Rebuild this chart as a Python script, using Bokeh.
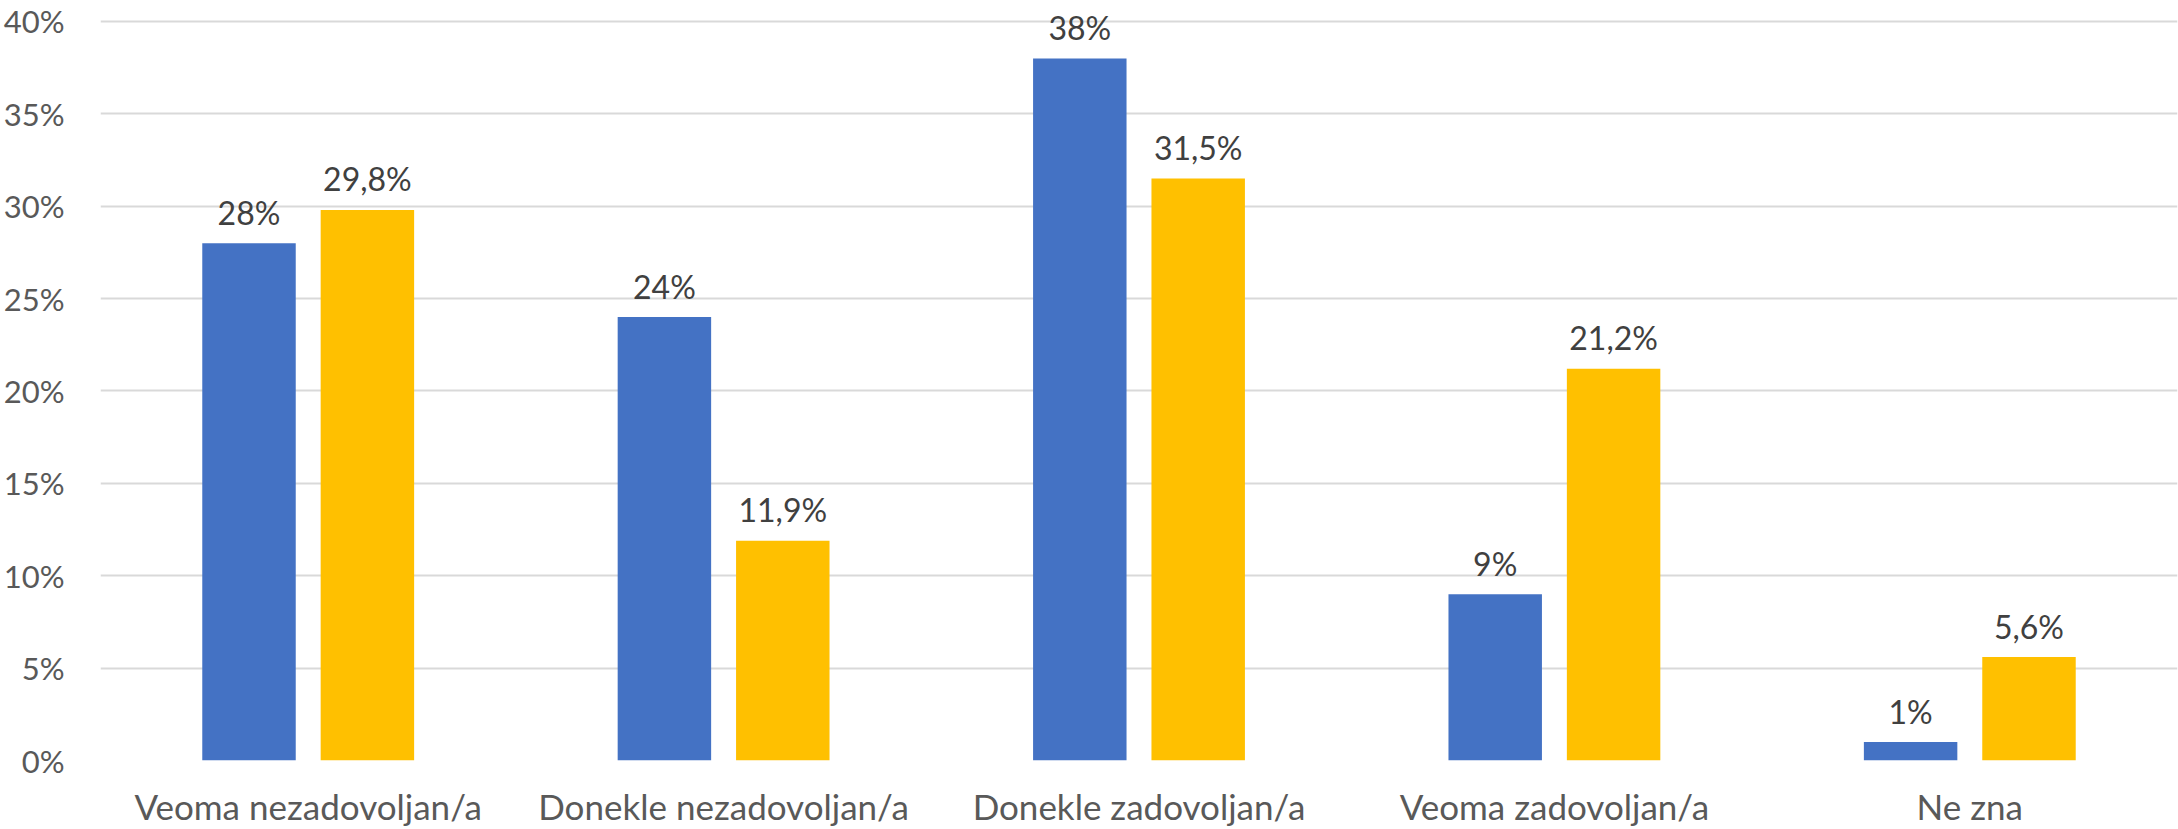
from bokeh.plotting import figure
from bokeh.models import ColumnDataSource, FactorRange, Range1d, FixedTicker
from bokeh.transform import dodge
from bokeh.core.properties import value
from bokeh.embed import file_html
from bokeh.resources import INLINE

categories = ["Veoma nezadovoljan/a", "Donekle nezadovoljan/a", "Donekle zadovoljan/a",
              "Veoma zadovoljan/a", "Ne zna"]
series_a = [28, 24, 38, 9, 1]
series_b = [29.8, 11.9, 31.5, 21.2, 5.6]
labels_a = ["28%", "24%", "38%", "9%", "1%"]
labels_b = ["29,8%", "11,9%", "31,5%", "21,2%", "5,6%"]
y_ticks = [0, 5, 10, 15, 20, 25, 30, 35, 40]

FONT = "Lato"
src = ColumnDataSource(dict(cat=categories, a=series_a, b=series_b, la=labels_a, lb=labels_b))

# frame spans 761 px; the 40% gridline sits 21 px below the top edge
y_top = 40 * 761 / 740

p = figure(width=2178, height=829, x_range=FactorRange(*categories), y_range=Range1d(0, y_top),
           output_backend="svg", toolbar_location=None,
           min_border_left=100, min_border_right=1, min_border_top=0, min_border_bottom=68)
p.outline_line_color = None
p.background_fill_color = "white"
p.border_fill_color = "white"

p.vbar(x=dodge("cat", -0.1425, range=p.x_range), top="a", width=0.225, source=src,
       fill_color="#4472C4", line_color=None)
p.vbar(x=dodge("cat", 0.1425, range=p.x_range), top="b", width=0.225, source=src,
       fill_color="#FFC000", line_color=None)

p.text(x=dodge("cat", -0.1425, range=p.x_range), y="a", text="la", source=src,
       text_align="center", text_baseline="alphabetic", y_offset=-31,
       text_font=value(FONT), text_font_size="32px", text_color="#404040")
p.text(x=dodge("cat", 0.1425, range=p.x_range), y="b", text="lb", source=src,
       text_align="center", text_baseline="alphabetic", y_offset=-31,
       text_font=value(FONT), text_font_size="32px", text_color="#404040")

p.yaxis.ticker = FixedTicker(ticks=y_ticks)
p.yaxis.major_label_overrides = {t: f"{t}%" for t in y_ticks}
p.yaxis.axis_line_color = None
p.yaxis.major_tick_line_color = None
p.yaxis.minor_tick_line_color = None
p.yaxis.major_label_standoff = 30
p.yaxis.major_label_text_font = FONT
p.yaxis.major_label_text_font_size = "31px"
p.yaxis.major_label_text_color = "#595959"

p.xaxis.axis_line_color = None
p.xaxis.major_tick_line_color = None
p.xaxis.major_label_standoff = 18
p.xaxis.major_label_text_font = FONT
p.xaxis.major_label_text_font_size = "35px"
p.xaxis.major_label_text_color = "#595959"

p.xgrid.grid_line_color = None
p.ygrid.grid_line_color = "#D9D9D9"
p.ygrid.grid_line_width = 2

open("out.html", "w").write(file_html(p, INLINE))
